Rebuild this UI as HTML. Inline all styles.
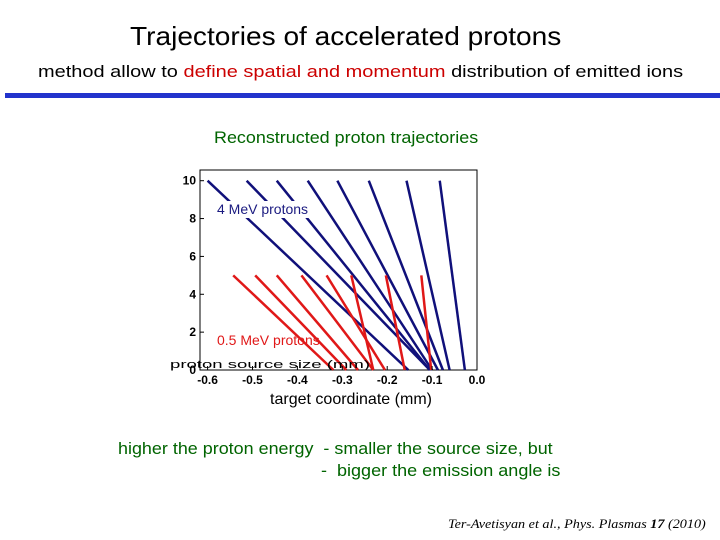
<!DOCTYPE html>
<html><head><meta charset="utf-8"><style>
body{margin:0;width:720px;height:540px;background:#fff;overflow:hidden;font-family:"Liberation Sans",sans-serif;position:relative}
.t{position:absolute;white-space:nowrap;transform-origin:left top}
</style></head><body>
<div class="t" style="left:130px;top:21px;font-size:26px;color:#000;transform:scaleX(1.08)">Trajectories of accelerated protons</div>
<div class="t" style="left:38px;top:62px;font-size:17px;color:#000;transform:scaleX(1.175)">method allow to <span style="color:#c00">define spatial and momentum</span> distribution of emitted ions</div>
<div style="position:absolute;left:5px;top:93px;width:715px;height:5px;background:#2233cc"></div>
<div class="t" style="left:214px;top:128px;font-size:17px;color:#006400;transform:scaleX(1.055)">Reconstructed proton trajectories</div>
<svg id="chart" style="position:absolute;left:0;top:0" width="720" height="540"></svg>
<div class="t" style="left:118px;top:439px;font-size:17px;color:#006400;transform:scaleX(1.055)">higher the proton energy&nbsp; - smaller the source size, but</div>
<div class="t" style="left:321px;top:461px;font-size:17px;color:#006400;transform:scaleX(1.06)">-&nbsp; bigger the emission angle is</div>
<div class="t" style="left:448px;top:516px;font-size:13px;font-style:italic;font-family:'Liberation Serif',serif;transform:scaleX(1.09)">Ter-Avetisyan et al., Phys. Plasmas <b>17</b> (2010)</div>
<script>
const blueTopX=[-0.6,-0.513,-0.446,-0.377,-0.311,-0.241,-0.157,-0.083];
const blueTopY=[10,10,10,10,10,10,10,10];
const blueBotX=[-0.153,-0.105,-0.105,-0.100,-0.087,-0.076,-0.061,-0.027];
const redTopX=[-0.543,-0.494,-0.446,-0.391,-0.335,-0.280,-0.203,-0.124];
const redTopY=[5,5,5,5,5,5,5,5];
const redBotX=[-0.320,-0.291,-0.265,-0.231,-0.205,-0.231,-0.161,-0.102];
const xTicks=[-0.6,-0.5,-0.4,-0.3,-0.2,-0.1,0.0];
const xTickLabels=["-0.6","-0.5","-0.4","-0.3","-0.2","-0.1","0.0"];
const yTicks=[0,2,4,6,8,10];
const yTickLabels=["0","2","4","6","8","10"];
const svg=document.getElementById('chart');
const NS='http://www.w3.org/2000/svg';
const X0=200,X1=477,Y0=370,Y1=170;
const sx=v=>477+v*449;
const sy=v=>370-v*18.93;
function mk(t,a){const e=document.createElementNS(NS,t);for(const k in a)e.setAttribute(k,a[k]);svg.appendChild(e);return e;}
const frame=mk('rect',{x:X0,y:Y1,width:X1-X0,height:Y0-Y1,fill:'none',stroke:'#000','stroke-width':1});


for(let i=0;i<blueTopX.length;i++){
 const l=mk('line',{x1:sx(blueTopX[i]),y1:sy(blueTopY[i]),x2:sx(blueBotX[i]),y2:sy(0),stroke:'#10107a','stroke-width':2.5});
 
 
}
for(let i=0;i<redTopX.length;i++){
 const l=mk('line',{x1:sx(redTopX[i]),y1:sy(redTopY[i]),x2:sx(redBotX[i]),y2:sy(0),stroke:'#e01818','stroke-width':2.5});
 
 
}
xTicks.forEach((v,i)=>{
 const t=mk('line',{x1:sx(v),x2:sx(v),y1:Y0,y2:Y0-4,stroke:'#000'});
 
 
 const tx=mk('text',{x:sx(v),y:Y0+14,'text-anchor':'middle','font-size':12,'font-weight':'bold','font-family':'Liberation Sans'});
 tx.textContent=xTickLabels[i];
 
 
});
yTicks.forEach((v,i)=>{
 const t=mk('line',{x1:X0,x2:X0+4,y1:sy(v),y2:sy(v),stroke:'#000'});
 
 
 const tx=mk('text',{x:X0-4,y:sy(v)+4,'text-anchor':'end','font-size':12,'font-weight':'bold','font-family':'Liberation Sans'});
 tx.textContent=yTickLabels[i];
 
 
});
const bl=mk('rect',{x:216,y:201,width:95,height:17,fill:'#fff'});


const bt=mk('text',{x:217,y:214,'font-size':14,fill:'#1a1a80','font-family':'Liberation Sans'});
bt.textContent='4 MeV protons';


const rt=mk('text',{x:217,y:345,'font-size':14,fill:'#e01818','font-family':'Liberation Sans'});
rt.textContent='0.5 MeV protons';


const yl=mk('text',{x:170,y:368,'font-size':11,'font-family':'Liberation Sans',textLength:200,lengthAdjust:'spacingAndGlyphs'});
yl.textContent='proton source size (mm)';


const xl=mk('text',{x:270,y:404,'font-size':16,'font-family':'Liberation Sans',textLength:162,lengthAdjust:'spacingAndGlyphs'});
xl.textContent='target coordinate (mm)';


</script>
</body></html>
